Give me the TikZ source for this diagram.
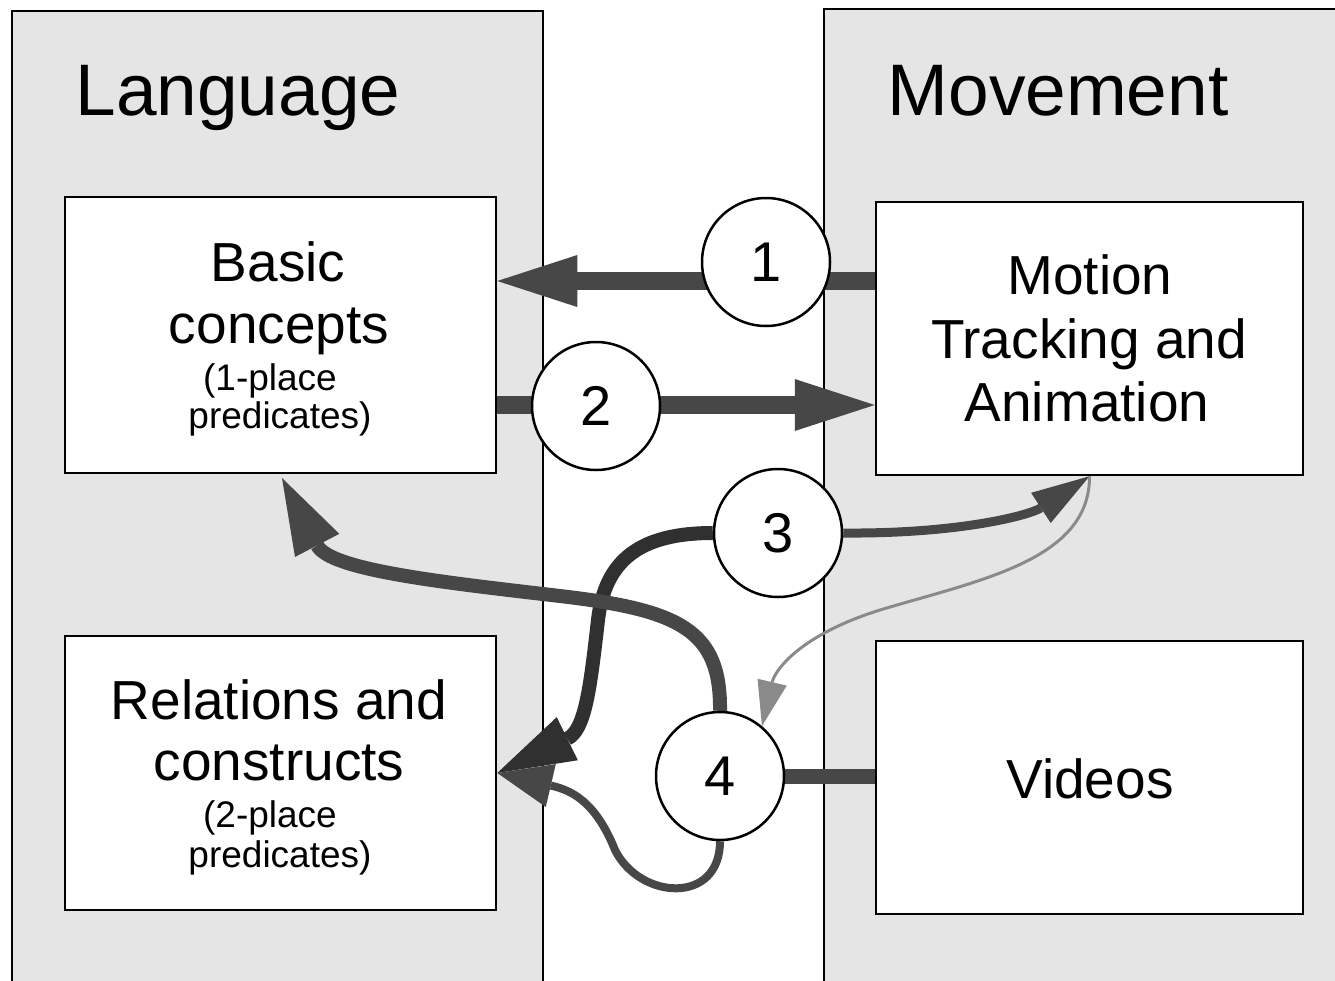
\documentclass[tikz,border=0pt]{standalone}
\usepackage{fontspec}
\setmainfont{Liberation Sans}
\usetikzlibrary{arrows.meta}
\pgfdeclarelayer{bg}
\pgfdeclarelayer{links}
\pgfsetlayers{bg,links,main}
\definecolor{panelgray}{HTML}{E5E5E5}
\definecolor{linkgray}{HTML}{474747}
\definecolor{linkdark}{HTML}{303030}
\definecolor{linklight}{HTML}{8A8A8A}
\tikzset{
  panel/.style={draw=black, line width=2pt, fill=panelgray},
  box/.style={draw=black, line width=2.5pt, fill=white, inner sep=0pt},
  num/.style={circle, draw=black, line width=2.5pt, fill=white, minimum size=128pt,
    inner sep=0pt, font=\fontsize{56}{56}\selectfont},
  title/.style={anchor=base, inner sep=0pt, font=\fontsize{73}{73}\selectfont},
  big/.style={anchor=base, inner sep=0pt, font=\fontsize{55}{55}\selectfont},
  small/.style={anchor=base, inner sep=0pt, font=\fontsize{37}{37}\selectfont},
  fat/.style={draw=linkgray, line width=18pt,
    -{Triangle[length=80pt,width=52pt,line width=0pt]}},
  bar/.style={draw=linkgray, line width=15pt},
  curvedlink/.style={draw=linkgray, line width=14pt,
    -{Triangle[length=76pt,width=50pt,line width=0pt]}},
  darklink/.style={draw=linkdark, line width=14pt,
    -{Triangle[length=78pt,width=48pt,line width=0pt]}},
  medlink/.style={draw=linkgray, line width=9pt,
    -{Triangle[length=58pt,width=36pt,line width=0pt]}},
  looplink/.style={draw=linkgray, line width=8pt,
    -{Triangle[length=55pt,width=44pt,line width=0pt]}},
  thinlink/.style={draw=linklight, line width=3pt,
    -{Triangle[length=45pt,width=30pt,line width=0pt]}},
}
\begin{document}
\begin{tikzpicture}[x=1pt,y=-1pt]
\useasboundingbox (0,0) rectangle (1335,980);

\begin{pgfonlayer}{bg}
  \fill[white] (0,0) rectangle (1335,980);
  % the two columns
  \draw[panel] (12,11) rectangle (543,1000);
  \draw[panel] (824,9) rectangle (1360,1000);
  \node[title] (lang) at (238,115) {Language};
  \node[title] (mov) at (1058,115) {Movement};

  % boxes
  \node[box, minimum width=431pt, minimum height=276pt] (bc) at (280.5,335) {};
  \node[box, minimum width=431pt, minimum height=274pt] (rc) at (280.5,773) {};
  \node[box, minimum width=427pt, minimum height=273pt] (mt) at (1089.5,338.5) {};
  \node[box, minimum width=427pt, minimum height=273pt] (vd) at (1089.5,777.5) {};

  \node[big] (bc1) at (278,281) {Basic};
  \node[big] (bc2) at (279,343) {concepts};
  \node[small] (bc3) at (270,390) {(1-place};
  \node[small] (bc4) at (280,428) {predicates)};

  \node[big] (rc1) at (279,719) {Relations and};
  \node[big] (rc2) at (279,780) {constructs};
  \node[small] (rc3) at (270,827) {(2-place};
  \node[small] (rc4) at (280,867) {predicates)};

  \node[big] (mt1) at (1090,294) {Motion};
  \node[big] (mt2) at (1089,358) {Tracking and};
  \node[big] (mt3) at (1087,421) {Animation};

  \node[big] (vd1) at (1090,798) {Videos};
\end{pgfonlayer}

% numbered steps
\node[num] (c1) at (766,262) {1};
\node[num] (c2) at (596,406) {2};
\node[num] (c3) at (778,533) {3};
\node[num] (c4) at (720,776) {4};

\coordinate (r1) at (0,281);
\coordinate (r2) at (0,405);

\begin{pgfonlayer}{links}
  % 1: motion tracking -> basic concepts
  \draw[fat] (mt.west |- r1) -- (bc.east |- r1);
  % 2: basic concepts -> motion tracking
  \draw[fat] (bc.east |- r2) -- (mt.west |- r2);
  % 3: to relations and to motion tracking
  \draw[darklink] (c3.west) .. controls (640,533) and (605,560) .. (598,620)
                            .. controls (590,690) and (585,730) .. (rc.east);
  \draw[medlink] (c3.east) .. controls (960,534) and (1030,515) .. (mt.south);
  % motion tracking feeds step 4
  \draw[thinlink] (mt.south) .. controls (1090,560) and (980,580) .. (880,610)
                             .. controls (800,635) and (775,670) .. (c4.50);
  % 4: videos in, results out
  \draw[bar] (c4.east) -- (vd.west |- c4.east);
  \draw[curvedlink] (c4.north) .. controls (721,630) and (680,610) .. (560,596)
                               .. controls (440,582) and (330,570) .. (282,478);
  \draw[looplink] (c4.south) .. controls (720,905) and (640,900) .. (615,850)
                             .. controls (595,800) and (570,790) .. (rc.east);
\end{pgfonlayer}
\end{tikzpicture}
\end{document}
